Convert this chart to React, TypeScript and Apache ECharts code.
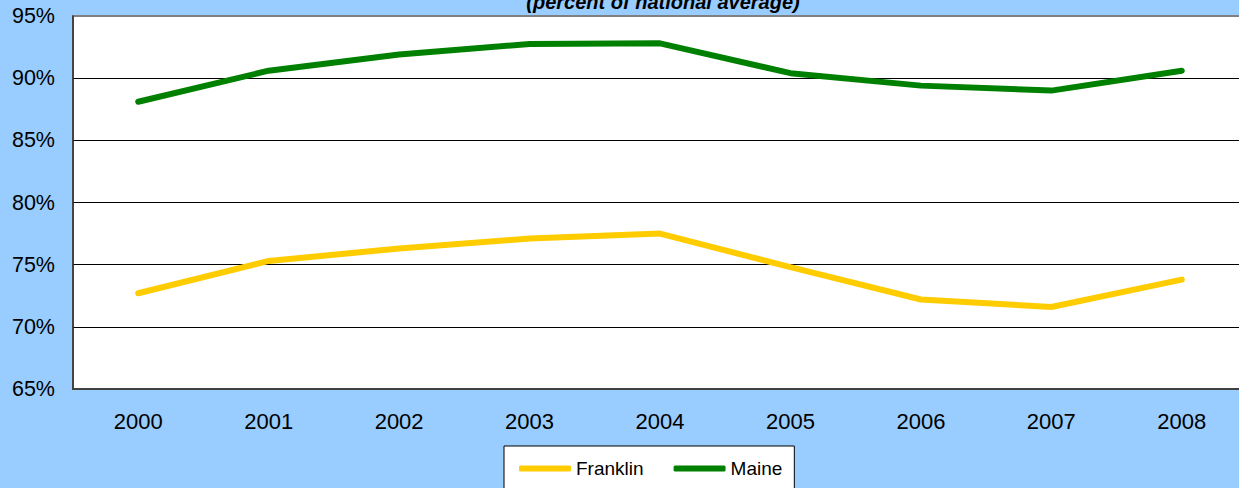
import React, { useEffect, useRef } from "react";
import * as echarts from "echarts";

const years = ["2000", "2001", "2002", "2003", "2004", "2005", "2006", "2007", "2008"];
const franklin = [72.7, 75.3, 76.3, 77.1, 77.5, 74.8, 72.2, 71.6, 73.8];
const maine = [88.1, 90.6, 91.9, 92.75, 92.8, 90.4, 89.4, 89.0, 90.6];
const titleText = "(percent of national average)";

export default function App() {
  const ref = useRef<HTMLDivElement>(null);
  useEffect(() => {
    document.body.style.margin = "0";
    const chart = echarts.init(ref.current!, null, { renderer: "svg" });
    const font = "Arial, 'Liberation Sans', sans-serif";
    chart.setOption({
      animation: false,
      backgroundColor: "#99CCFF",
      textStyle: { fontFamily: font },
      grid: {
        left: 73,
        top: 16,
        bottom: 99,
        right: 0,
        show: true,
        backgroundColor: "#ffffff",
        borderColor: "#808080",
        borderWidth: 2,
      },
      graphic: [
        {
          type: "text",
          x: 663,
          y: 2,
          style: {
            text: titleText,
            font: "italic bold 20px Arial, 'Liberation Sans', sans-serif",
            fill: "#000",
            textAlign: "center",
            textVerticalAlign: "middle",
          },
        },
      ],
      xAxis: {
        type: "category",
        data: years,
        boundaryGap: true,
        axisLine: { lineStyle: { color: "#404040", width: 2 } },
        axisTick: { show: false },
        axisLabel: { color: "#000", fontSize: 22, margin: 21, fontFamily: font },
        splitLine: { show: false },
      },
      yAxis: {
        type: "value",
        min: 65,
        max: 95,
        interval: 5,
        axisLine: { show: true, lineStyle: { color: "#303030", width: 1.5 } },
        axisTick: { show: false },
        axisLabel: {
          color: "#000",
          fontSize: 21.5,
          margin: 18,
          fontFamily: font,
          formatter: (v: number) => v + "%",
        },
        splitLine: {
          show: true,
          lineStyle: {
            color: ["#404040", "#000", "#000", "#000", "#000", "#000", "#808080"],
            width: 1,
          },
        },
      },
      legend: {
        bottom: -20,
        left: 504,
        orient: "horizontal",
        backgroundColor: "#ffffff",
        borderColor: "#000",
        borderWidth: 1,
        padding: [13, 12, 30, 15],
        itemWidth: 52,
        itemHeight: 6,
        itemGap: 30,
        icon: "roundRect",
        textStyle: { color: "#000", fontSize: 19, fontFamily: font },
        data: ["Franklin", "Maine"],
      },
      series: [
        {
          name: "Franklin",
          type: "line",
          data: franklin,
          symbol: "none",
          color: "#FFCC00",
          lineStyle: { color: "#FFCC00", width: 6, cap: "round" },
        },
        {
          name: "Maine",
          type: "line",
          data: maine,
          symbol: "none",
          color: "#008000",
          lineStyle: { color: "#008000", width: 6, cap: "round" },
        },
      ],
    });
    return () => chart.dispose();
  }, []);
  return (
    <div style={{ position: "absolute", left: 0, top: 0, width: 1239, height: 488, overflow: "hidden" }}>
      <div ref={ref} style={{ width: 1247, height: 488 }} />
    </div>
  );
}
